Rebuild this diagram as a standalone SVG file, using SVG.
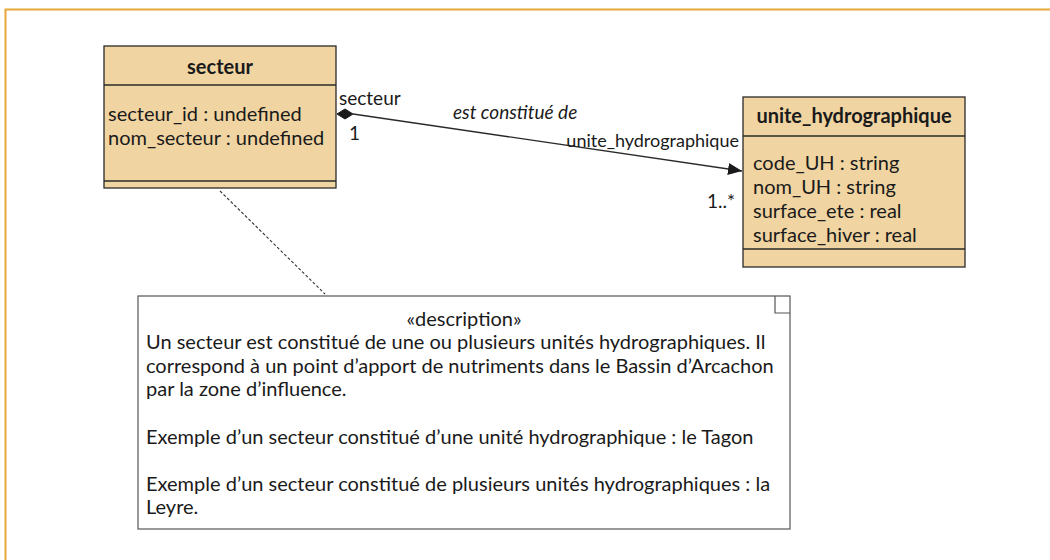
<svg xmlns="http://www.w3.org/2000/svg" width="1050" height="560" viewBox="0 0 1050 560">
<defs>
<style>
text{font-family:Lato,"Open Sans","DejaVu Sans",sans-serif;fill:#1a1a1a;font-size:20px}
.b{font-weight:bold}
.i{font-style:italic}
.s{font-size:19px}
.cls{fill:#F0D5A2;stroke:#2a2a2a;stroke-width:1.3}
.ln{stroke:#2a2a2a;stroke-width:1.3;fill:none}
</style>
<marker id="arr" markerWidth="14" markerHeight="12" refX="14" refY="6" orient="auto" markerUnits="userSpaceOnUse">
<path d="M0,0 L14,6 L0,12 Z" fill="#1a1a1a"/>
</marker>
</defs>
<rect width="1050" height="560" fill="#fff"/>
<path d="M5.5,560 L5.5,9.5 L1050,9.5" fill="none" stroke="#E8A838" stroke-width="2"/>
<g id="secteur">
<rect class="cls" x="104" y="46" width="232" height="142"/>
<line class="ln" x1="104" y1="85" x2="336" y2="85"/>
<line class="ln" x1="104" y1="181" x2="336" y2="181"/>
<text class="b" x="220" y="74" text-anchor="middle">secteur</text>
<text x="108" y="121">secteur_id : undefined</text>
<text x="108" y="145">nom_secteur : undefined</text>
</g>
<g id="unite_hydrographique">
<rect class="cls" x="743" y="97" width="222" height="170"/>
<line class="ln" x1="743" y1="136" x2="965" y2="136"/>
<line class="ln" x1="743" y1="249" x2="965" y2="249"/>
<text class="b" x="854" y="123" text-anchor="middle">unite_hydrographique</text>
<text x="753" y="170">code_UH : string</text>
<text x="753" y="194">nom_UH : string</text>
<text x="753" y="218">surface_ete : real</text>
<text x="753" y="242">surface_hiver : real</text>
</g>
<g id="note">
<rect x="138" y="296" width="652" height="233" fill="#fff" stroke="#555" stroke-width="1.2"/>
<path d="M775,296 L775,313 L790,313" fill="none" stroke="#555" stroke-width="1.2"/>
<text x="464" y="326" text-anchor="middle">«description»</text>
<text x="146" y="349">Un secteur est constitué de une ou plusieurs unités hydrographiques. Il</text>
<text x="146" y="373">correspond à un point d’apport de nutriments dans le Bassin d’Arcachon</text>
<text x="146" y="396">par la zone d’influence.</text>
<text x="146" y="444">Exemple d’un secteur constitué d’une unité hydrographique : le Tagon</text>
<text x="146" y="491">Exemple d’un secteur constitué de plusieurs unités hydrographiques : la</text>
<text x="146" y="514">Leyre.</text>
</g>
<g id="connectors">
<path d="M337,114 L345,109 L353,114 L345,119 Z" fill="#1a1a1a" stroke="#1a1a1a" stroke-width="1"/>
<line class="ln" x1="353" y1="114" x2="742" y2="171" marker-end="url(#arr)"/>
<line x1="220" y1="191" x2="325" y2="294" stroke="#333" stroke-width="1.1" stroke-dasharray="3,2"/>
<text class="s" x="339" y="105">secteur</text>
<text class="s" x="349" y="140">1</text>
<text class="i s" x="453" y="119">est constitué de</text>
<text x="739" y="147" text-anchor="end" style="font-size:18px">unite_hydrographique</text>
<text class="s" x="735" y="208" text-anchor="end">1..*</text>
</g>
</svg>
